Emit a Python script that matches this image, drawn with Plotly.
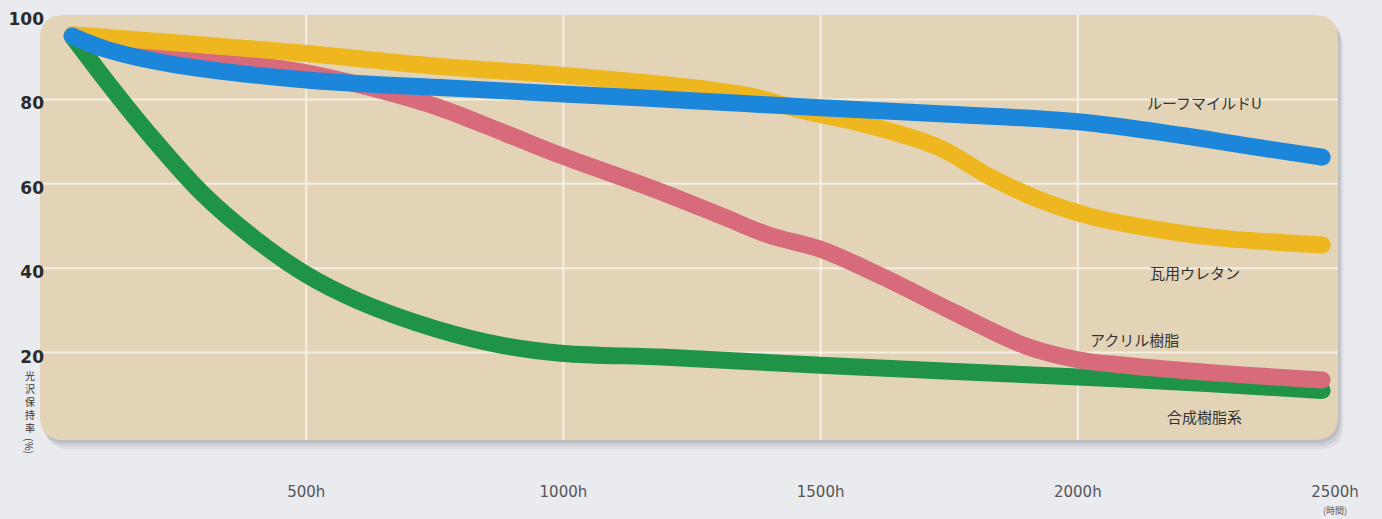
import plotly.graph_objects as go

# ---- data ----
x_ticks = [500, 1000, 1500, 2000, 2500]
x_ticktext = ["500h", "1000h", "1500h", "2000h", "2500h"]
y_ticks = [20, 40, 60, 80, 100]
y_title_chars = ["光", "沢", "保", "持", "率"]

green_h = [45, 120, 200, 300, 400, 500, 600, 750, 886, 1000, 1200, 1500, 1750, 2000, 2250, 2475]
green_v = [95, 83, 71, 57.5, 47, 38.5, 32.3, 25.7, 21.6, 19.8, 18.9, 17, 15.6, 14.2, 12.7, 11]

pink_h = [45, 250, 500, 650, 760, 890, 1000, 1170, 1305, 1400, 1500, 1620, 1760, 1900, 2000, 2090, 2265, 2475]
pink_v = [95, 90.5, 86.3, 82, 78, 71.8, 66.5, 59, 52.5, 47.8, 44.5, 38, 29.5, 21.5, 18.3, 17, 15.2, 13.5]

yellow_h = [45, 240, 490, 760, 1000, 1250, 1375, 1460, 1595, 1730, 1830, 1930, 2030, 2130, 2265, 2475]
yellow_v = [95.3, 93.5, 91, 87.8, 85.7, 82.8, 80.5, 77.5, 73.8, 68.6, 61.6, 56, 52.1, 49.7, 47.3, 45.5]

blue_h = [45, 113, 241, 500, 760, 1000, 1250, 1500, 1750, 2000, 2200, 2330, 2475]
blue_v = [95, 91.8, 88.3, 84.6, 82.8, 81.3, 79.7, 78, 76.5, 74.7, 71.5, 69, 66.3]

series = [
    ("合成樹脂系", green_h, green_v, "#1f9446"),
    ("アクリル樹脂", pink_h, pink_v, "#d86b7b"),
    ("瓦用ウレタン", yellow_h, yellow_v, "#efb71f"),
    ("ルーフマイルドU", blue_h, blue_v, "#1c86da"),
]

# label positions (data coords)
labels = {
    "ルーフマイルドU": (2247, 79.2),
    "瓦用ウレタン": (2228, 39.1),
    "アクリル樹脂": (2111, 23.0),
    "合成樹脂系": (2247, 4.8),
}

LW = 17
W, H = 1382, 519
ML, MR, MT, MB = 48, 46, 15, 82
PW = W - ML - MR
PH = H - MT - MB

fig = go.Figure()
for name, hx, vy, col in series:
    sizes = [LW] + [0] * (len(hx) - 2) + [LW]
    fig.add_trace(go.Scatter(
        x=hx, y=vy, mode="lines+markers", name=name,
        line=dict(color=col, width=LW, shape="spline", smoothing=1.0),
        marker=dict(color=col, size=sizes, opacity=1, line=dict(width=0)),
        hoverinfo="skip", showlegend=False,
    ))

for name, (lx, ly) in labels.items():
    fig.add_annotation(x=lx, y=ly, xref="x", yref="y", text=name, showarrow=False,
                       font=dict(family="Noto Sans CJK JP", size=15, color="#333333"))

# rounded background box
def rrect(x0, y0, x1, y1, r):
    rx = r / PW
    ry = r / PH
    return (f"M {x0+rx},{y0} L {x1-rx},{y0} Q {x1},{y0} {x1},{y0+ry} "
            f"L {x1},{y1-ry} Q {x1},{y1} {x1-rx},{y1} L {x0+rx},{y1} "
            f"Q {x0},{y1} {x0},{y1-ry} L {x0},{y0+ry} Q {x0},{y0} {x0+rx},{y0} Z")

bx0 = (40 - ML) / PW
bx1 = (1338 - ML) / PW
by0 = -3 / PH
by1 = 1.0
# shadows
for off, a in [(9, 0.10), (6, 0.14), (3, 0.18)]:
    fig.add_shape(type="path", xref="paper", yref="paper", layer="below",
                  path=rrect(bx0 + off * 0.6 / PW, by0 - off / PH, bx1 + off * 0.6 / PW, by1 - off / PH, 24),
                  fillcolor=f"rgba(110,110,120,{a})", line=dict(width=0))
fig.add_shape(type="path", xref="paper", yref="paper", layer="below",
              path=rrect(bx0, by0, bx1, by1, 24),
              fillcolor="#e3d4b8", line=dict(width=0))

# gridlines
for t in x_ticks[:-1]:
    fig.add_shape(type="line", xref="x", yref="paper", x0=t, x1=t, y0=by0, y1=by1,
                  layer="below", line=dict(color="rgba(255,255,255,0.6)", width=2))
for t in y_ticks[:-1]:
    fig.add_shape(type="line", xref="paper", yref="y", x0=bx0, x1=bx1, y0=t, y1=t,
                  layer="below", line=dict(color="rgba(255,255,255,0.6)", width=2))

fig.add_annotation(x=2500, y=(437 - 510) / PH, xref="x", yref="paper", text="(時間)",
                   yanchor="middle", showarrow=False,
                   font=dict(family="Noto Sans CJK JP", size=9, color="#555555"))

# vertical (tategaki) axis title
fig.add_annotation(x=(30 - ML) / PW, y=(437 - 401) / PH, xref="paper", yref="paper",
                   text="<br>".join(y_title_chars), showarrow=False,
                   xanchor="center", yanchor="middle", borderpad=0,
                   font=dict(family="Noto Sans CJK JP", size=10, color="#333333"))
fig.add_annotation(x=(30 - ML) / PW, y=(437 - 446) / PH, xref="paper", yref="paper",
                   text="(%)", textangle=90, showarrow=False, xanchor="center", yanchor="middle",
                   borderpad=0,
                   font=dict(family="Noto Sans CJK JP", size=10, color="#333333"))

fig.update_layout(
    width=W, height=H,
    margin=dict(l=ML, r=MR, t=MT, b=MB, autoexpand=False),
    paper_bgcolor="#eaebef", plot_bgcolor="rgba(0,0,0,0)",
    xaxis=dict(range=[-1.9, 2501.9], tickvals=x_ticks, ticktext=x_ticktext,
               showgrid=False, zeroline=False, showline=False, ticks="",
               ticklabelstandoff=44, automargin=False,
               tickfont=dict(family="DejaVu Sans", size=15, color="#555555")),
    yaxis=dict(range=[0, 100], tickvals=y_ticks, showgrid=False, zeroline=False,
               showline=False, ticks="", ticklabelstandoff=3, ticklabelshift=4,
               automargin=False,
               tickfont=dict(family="DejaVu Sans", size=17, color="#2a2a2a", weight="bold")),
)

fig.write_html("out.html", config={"displayModeBar": False},
               post_script="document.body.style.margin='0';document.body.style.overflow='hidden';")
